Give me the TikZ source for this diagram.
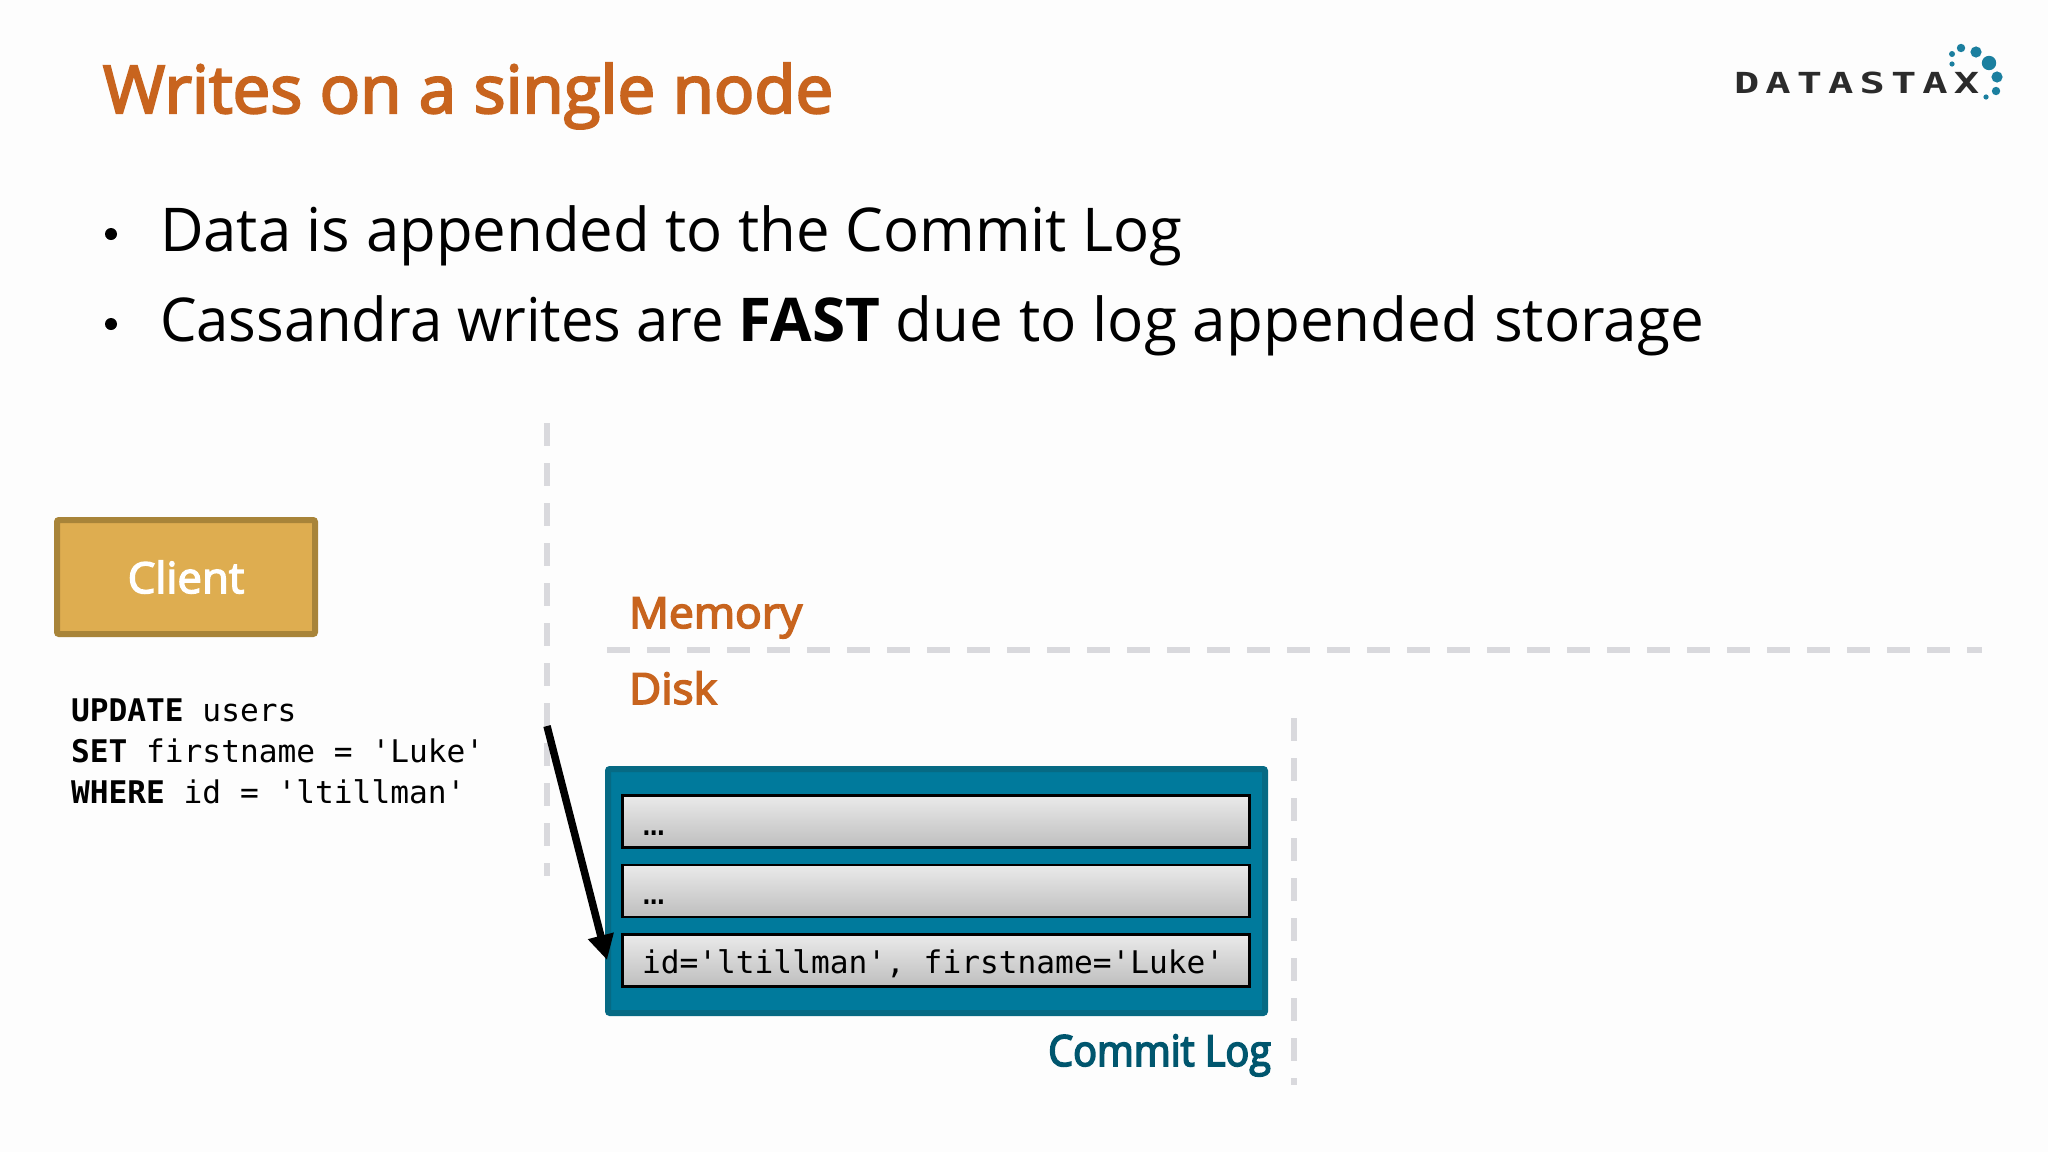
\documentclass[tikz,border=0pt]{standalone}
\usepackage{fontspec}
\usetikzlibrary{arrows.meta}
\setmainfont{Open Sans}[FakeStretch=0.991]
\newfontfamily\lineafont{Open Sans}[FakeStretch=0.96]
\newfontfamily\linebfont{Open Sans}[FakeStretch=0.997]
\newfontfamily\headfont{Open Sans}[FakeStretch=1.017]
\newfontfamily\labelfont{Open Sans}[FakeStretch=1.03]
\newfontfamily\loglabelfont{Open Sans}[FakeStretch=0.92]
\newfontfamily\codefont{DejaVu Sans Mono}
\newfontfamily\logofont{DejaVu Sans Mono}[FakeStretch=1.45,LetterSpace=21]
\newcommand{\semibold}[2]{\special{pdf:code q 2 Tr #1 w}#2\special{pdf:code Q}}
\definecolor{titlecol}{HTML}{C8641E}
\definecolor{sepcol}{HTML}{D9D9DD}
\definecolor{clientfill}{HTML}{DEAD50}
\definecolor{clientline}{HTML}{A88439}
\definecolor{logfill}{HTML}{007A9C}
\definecolor{logline}{HTML}{066A84}
\definecolor{loglabel}{HTML}{00566E}
\definecolor{dotcol}{HTML}{1B7F9F}
\definecolor{logotext}{HTML}{2B2B2B}
\definecolor{rowtop}{HTML}{EAEAEA}
\definecolor{rowbot}{HTML}{BEBEBE}
\definecolor{bg}{HTML}{FDFDFD}
\tikzset{
  x=0.5pt,y=-0.5pt,
  txt/.style={inner sep=0pt,outer sep=0pt,anchor=base west},
  titletxt/.style={txt,font=\headfont\fontsize{33}{33}\selectfont,text=titlecol},
  bullettxt/.style={txt,font=\fontsize{30.2}{30.2}\selectfont,text=black},
  bulletdot/.style={circle,fill=black,inner sep=0pt,minimum size=6pt},
  sublabel/.style={txt,font=\labelfont\fontsize{21.5}{21.5}\selectfont,text=titlecol},
  code/.style={txt,font=\codefont\fontsize{15.6}{15.6}\selectfont,text=black},
  sep/.style={draw=sepcol,line width=2.9pt,dash pattern=on 11.5pt off 8.5pt},
  clientbox/.style={draw=clientline,fill=clientfill,line width=3pt,rounded corners=1pt,minimum width=129pt,minimum height=57pt,inner sep=0pt,text=white,font=\headfont\fontsize{21.5}{21.5}\selectfont},
  logbox/.style={draw=logline,fill=logfill,line width=3pt,rounded corners=1pt,minimum width=328.5pt,minimum height=122pt,inner sep=0pt},
  rowbox/.style={draw=black,line width=1.3pt,top color=rowtop,bottom color=rowbot,minimum width=313.5pt,minimum height=26pt,inner sep=0pt},
  logdot/.style={circle,fill=dotcol,inner sep=0pt},
  flow/.style={draw=black,line width=3.75pt,-{Triangle[length=12.5pt 0,width=12.5pt 0]}},
}
\begin{document}
\begin{tikzpicture}
\useasboundingbox (0,0) rectangle (2048,1152);
\fill[bg] (0,0) rectangle (2048,1152);
\node[titletxt] (title) at (103,113) {\semibold{1.1}{Writes on a single node}};
\node[bulletdot] (b1) at (111,234) {};
\node[bulletdot] (b2) at (111,324) {};
\node[bullettxt] (l1) at (160,251) {Data is appended to the Commit Log};
\node[bullettxt] (l2) at (160,341) {\lineafont Cassandra writes are {\linebfont\textbf{FAST} due to log appended storage}};
% logo
\node[txt,font=\logofont\bfseries\fontsize{14.5}{14.5}\selectfont,text=logotext] (logo) at (1734,93) {DATASTAX};
\node[logdot,minimum size=2.6pt] (d1) at (1952,64) {};
\node[logdot,minimum size=3pt] (d2) at (1952,54) {};
\node[logdot,minimum size=4.2pt] (d3) at (1961,48) {};
\node[logdot,minimum size=5.6pt] (d4) at (1976,52) {};
\node[logdot,minimum size=7.2pt] (d5) at (1989,63) {};
\node[logdot,minimum size=5.6pt] (d6) at (1997,77) {};
\node[logdot,minimum size=4.2pt] (d7) at (1996,91) {};
\node[logdot,minimum size=2.6pt] (d8) at (1986,97) {};
% separators
\coordinate (v1a) at (547,423); \coordinate (v1b) at (547,876);
\coordinate (ha) at (607,650); \coordinate (hb) at (1982,650);
\coordinate (v2a) at (1294,718); \coordinate (v2b) at (1294,1085);
\draw[sep] (v1a) -- (v1b);
\draw[sep] (ha) -- (hb);
\draw[sep] (v2a) -- (v2b);
% client
\node[clientbox] (client) at (186,577) {\raisebox{-0.5pt}{\semibold{0.7}{Client}}};
\node[code] (sql1) at (71,721) {\textbf{UPDATE} users};
\node[code] (sql2) at (71,762) {\textbf{SET} firstname = 'Luke'};
\node[code] (sql3) at (71,803) {\textbf{WHERE} id = 'ltillman'};
% labels
\node[sublabel] (mem) at (629,628) {\semibold{0.8}{Memory}};
\node[sublabel] (disk) at (629,704) {\semibold{0.8}{Disk}};
% commit log
\node[logbox] (log) at (936.5,891) {};
\node[rowbox] (r1) at (936,821.5) {};
\node[rowbox] (r2) at (936,891) {};
\node[rowbox] (r3) at (936,960.5) {};
\node[code] (t1) at (637,835) {\addfontfeature{LetterSpace=-37}...};
\node[code] (t2) at (637,904) {\addfontfeature{LetterSpace=-37}...};
\node[code] (t3) at (642,973) {id='ltillman', firstname='Luke'};
\node[sublabel,anchor=base east,text=loglabel,font=\loglabelfont\fontsize{21.5}{21.5}\selectfont] (cl) at (1271,1066) {\semibold{0.8}{Commit Log}};
% arrow
\coordinate (arrowfrom) at (547,726);
\coordinate (arrowto) at (607,960);
\draw[flow] (arrowfrom) -- (arrowto);
\end{tikzpicture}
\end{document}
